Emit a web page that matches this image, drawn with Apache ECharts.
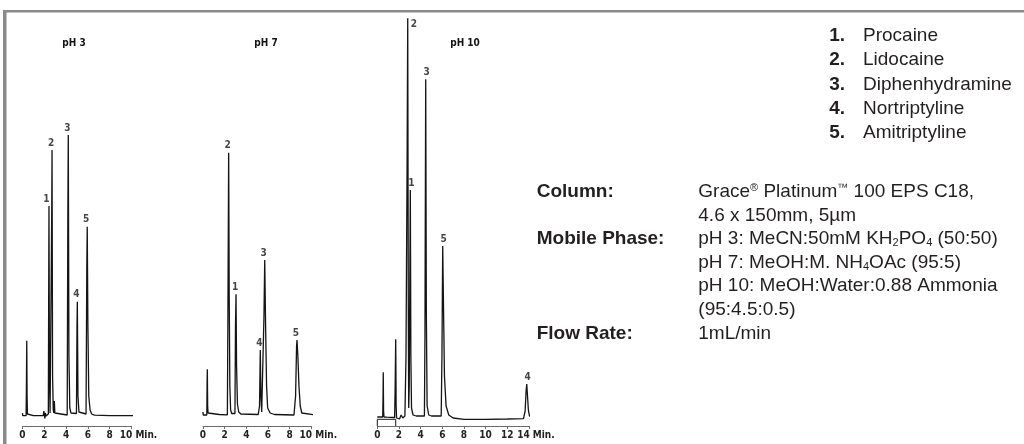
<!DOCTYPE html>
<html><head><meta charset="utf-8">
<script src="https://cdn.jsdelivr.net/npm/echarts@6/dist/echarts.min.js"></script>
<style>html,body{margin:0;padding:0;background:#fff}#c{width:1024px;height:444px}</style>
</head><body><div id="c"></div><script>
// ---------- data ----------
const panelTitles = ['pH 3', 'pH 7', 'pH 10'];
const axisMax = [10, 10, 14];
const axisUnit = 'Min.';

// time (min), detector signal (arbitrary units)
const tracePH3 = [[0,3],[0.02,0.3],[0.33,0.3],[0.36,30],[0.39,75.3],[0.42,20],[0.45,2],[0.5,0.5],[1.0,0.3],[1.9,0.3],[1.96,5],[2.0,1.5],[2.05,-2.5],[2.1,3],[2.16,0],[2.25,0.8],[2.37,2],[2.41,150],[2.43,210],[2.47,40],[2.53,3],[2.62,5],[2.68,200],[2.71,266],[2.76,40],[2.82,6],[2.87,3],[2.92,15],[2.97,3],[3.1,1.5],[4.1,1],[4.16,200],[4.2,281],[4.26,60],[4.34,8],[4.45,3],[4.95,2.5],[5.0,90],[5.03,114.3],[5.09,20],[5.18,4],[5.3,2],[5.83,2],[5.9,150],[5.94,189.3],[6.0,90],[6.08,20],[6.2,6],[6.35,2],[6.6,0.8],[8,0.3],[10.4,0.3]];
const tracePH7 = [[0,4],[0.02,1],[0.35,1],[0.38,35],[0.4,46.7],[0.43,10],[0.47,3],[0.6,2],[1.5,1.5],[2.25,1.2],[2.3,100],[2.37,263.3],[2.42,120],[2.48,30],[2.55,6],[2.65,2.5],[2.95,2.5],[3.0,90],[3.05,121.7],[3.1,50],[3.18,12],[3.3,4],[3.5,2],[5.1,1.5],[5.22,10],[5.29,66],[5.35,20],[5.42,4],[5.55,5],[5.63,100],[5.7,156],[5.78,90],[5.87,30],[5.97,8],[6.2,3],[6.6,1.5],[8.4,1],[8.55,20],[8.64,70],[8.68,76],[8.76,60],[8.86,30],[8.98,10],[9.12,3],[9.3,1.2],[10.4,1]];
const tracePH10 = [[0,-1],[0.5,-1],[0.53,20],[0.55,43.7],[0.58,5],[0.62,-1],[0.9,-1.2],[1.6,-1.5],[1.65,30],[1.7,76.7],[1.74,10],[1.78,-2],[1.9,-1],[2.05,-3],[2.2,1],[2.35,-2],[2.45,-4],[2.55,0],[2.65,60],[2.75,250],[2.81,397.7],[2.86,120],[2.9,8],[2.95,30],[3.05,226],[3.1,60],[3.16,8],[3.3,1],[3.6,0],[4.35,0],[4.4,80],[4.47,336.7],[4.53,100],[4.6,10],[4.75,1],[5.0,0],[5.9,0],[5.97,60],[6.04,170],[6.1,120],[6.2,40],[6.35,10],[6.6,1],[7.0,-2],[8,-3.3],[10,-3.3],[12,-3],[13.5,-2.7],[13.65,5],[13.74,25],[13.8,32],[13.87,20],[13.95,6],[14.05,0],[14.2,-1.5],[15.1,-1.5]];
// integration marker drawn under the pH 10 trace
const eventPH10 = [[0,-10],[0,-3.3],[1.7,-3.3],[1.7,-10]];

// peak labels: time, apex signal, compound number
const peaksPH3 = [[2.43,210,'1'],[2.71,266,'2'],[4.2,281,'3'],[5.03,114.3,'4'],[5.94,189.3,'5']];
const peaksPH7 = [[2.37,263.3,'2'],[3.05,121.7,'1'],[5.29,66,'4'],[5.7,156,'3'],[8.68,76,'5']];
const peaksPH10 = [[2.81,397.7,'2'],[3.05,226,'1'],[4.47,336.7,'3'],[6.04,170,'5'],[13.8,32,'4']];

const compoundNumbers = ['1.', '2.', '3.', '4.', '5.'];
const compoundNames = ['Procaine', 'Lidocaine', 'Diphenhydramine', 'Nortriptyline', 'Amitriptyline'];

const specLabels = ['Column:', '', 'Mobile Phase:', '', '', '', 'Flow Rate:'];
const specValues = [
  'Grace{sup|®} Platinum{sup|™} 100 EPS C18,',
  '4.6 x 150mm, 5µm',
  'pH 3: MeCN:50mM KH{sub|2}PO{sub|4} (50:50)',
  'pH 7: MeOH:M. NH{sub|4}OAc (95:5)',
  'pH 10: MeOH:Water:0.88 Ammonia',
  '(95:4.5:0.5)',
  '1mL/min'
];

// ---------- layout / style ----------
const traces = [tracePH3, tracePH7, tracePH10];
const peaks = [peaksPH3, peaksPH7, peaksPH10];
const gridLeft = [22.5, 203, 377.3];
const pxPerMin = [10.9, 10.83, 10.83];
const labelShift = [-1, -1, 1];
const titleX = [74, 266, 465];
const narrow = "'Liberation Sans Narrow','Arial Narrow','DejaVu Sans Condensed',sans-serif";
const sans = "'Liberation Sans',Arial,Helvetica,sans-serif";
const ink = '#141414';
const yMin = -10, yMax = 400;

const grids = [], xAxes = [], yAxes = [], series = [];
for (let i = 0; i < 3; i++) {
  grids.push({left: gridLeft[i], width: axisMax[i] * pxPerMin[i], top: 16, height: 410});
  const mx = axisMax[i];
  xAxes.push({
    gridIndex: i, type: 'value', min: 0, max: mx, interval: 2,
    axisLine: {onZero: false, lineStyle: {color: '#6b6b6b', width: 1}},
    axisTick: {length: 3, lineStyle: {color: '#6b6b6b'}},
    splitLine: {show: false},
    axisLabel: {
      margin: 4, fontSize: 10, fontWeight: 'bold', fontFamily: narrow, color: '#222',
      formatter: v => v === mx ? '{u|' + v + ' ' + axisUnit + '}' : String(v),
      rich: {u: {fontSize: 10, fontWeight: 'bold', fontFamily: narrow, color: '#222', padding: [0, 0, 0, 14]}}
    }
  });
  yAxes.push({gridIndex: i, type: 'value', min: yMin, max: yMax, show: false});
  series.push({
    type: 'line', xAxisIndex: i, yAxisIndex: i, data: traces[i], symbol: 'none',
    clip: false, silent: true, lineStyle: {color: ink, width: 1.3}
  });
  series.push({
    type: 'scatter', xAxisIndex: i, yAxisIndex: i, data: peaks[i], symbolSize: 0, silent: true,
    label: {
      show: true, formatter: p => p.value[2], fontSize: 10, fontWeight: 'bold', fontFamily: narrow, color: ink,
      position: 'top', distance: 2, offset: [labelShift[i], 0]
    }
  });
}
// put the top-clipped label to the right of its apex; nudge labels sitting next to a close neighbour
series[5].data = peaksPH10.map(d => d[1] > yMax - 10 ? {value: d, label: {position: 'right', distance: 3, offset: [0, 6]}} : {value: d});
series[1].data = peaksPH3.map((d, k) => {
  const next = peaksPH3[k + 1];
  return next && next[0] - d[0] < 0.4 ? {value: d, label: {offset: [-2.5, 0]}} : {value: d};
});
series.push({
  type: 'line', xAxisIndex: 2, yAxisIndex: 2, data: eventPH10, symbol: 'none', clip: false, silent: true,
  lineStyle: {color: ink, width: 1}
});

const graphic = [
  {type: 'rect', shape: {x: 3, y: 10, width: 1021, height: 2.5}, style: {fill: '#8a8a8a'}, silent: true},
  {type: 'rect', shape: {x: 3, y: 10, width: 3.5, height: 434}, style: {fill: '#8a8a8a'}, silent: true}
];
panelTitles.forEach((t, i) => graphic.push({
  type: 'text', x: titleX[i], y: 43,
  style: {text: t, font: 'bold 10px ' + narrow, fill: ink, align: 'center', verticalAlign: 'middle'}
}));
compoundNames.forEach((n, i) => {
  const y = 36 + 24.2 * i;
  graphic.push({type: 'text', x: 829.3, y: y, style: {text: compoundNumbers[i], font: 'bold 19px ' + sans, fill: '#231f20', verticalAlign: 'middle'}});
  graphic.push({type: 'text', x: 863, y: y, style: {text: n, font: '19px ' + sans, fill: '#231f20', verticalAlign: 'middle'}});
});
specValues.forEach((v, i) => {
  const y = 191.7 + 23.6 * i;
  if (specLabels[i]) graphic.push({type: 'text', x: 536.7, y: y, style: {text: specLabels[i], font: 'bold 19px ' + sans, fill: '#231f20', verticalAlign: 'middle'}});
  graphic.push({type: 'text', x: 698.3, y: y, style: {
    text: v, fill: '#231f20', verticalAlign: 'middle', fontSize: 19, fontFamily: sans,
    rich: {
      sup: {fontSize: 11, fontFamily: sans, fill: '#231f20', verticalAlign: 'top'},
      sub: {fontSize: 11, fontFamily: sans, fill: '#231f20', verticalAlign: 'bottom'}
    }
  }});
});

const chart = echarts.init(document.getElementById('c'), null, {renderer: 'canvas'});
chart.setOption({
  animation: false,
  backgroundColor: '#fff',
  grid: grids, xAxis: xAxes, yAxis: yAxes, series: series, graphic: graphic
});
</script></body></html>
